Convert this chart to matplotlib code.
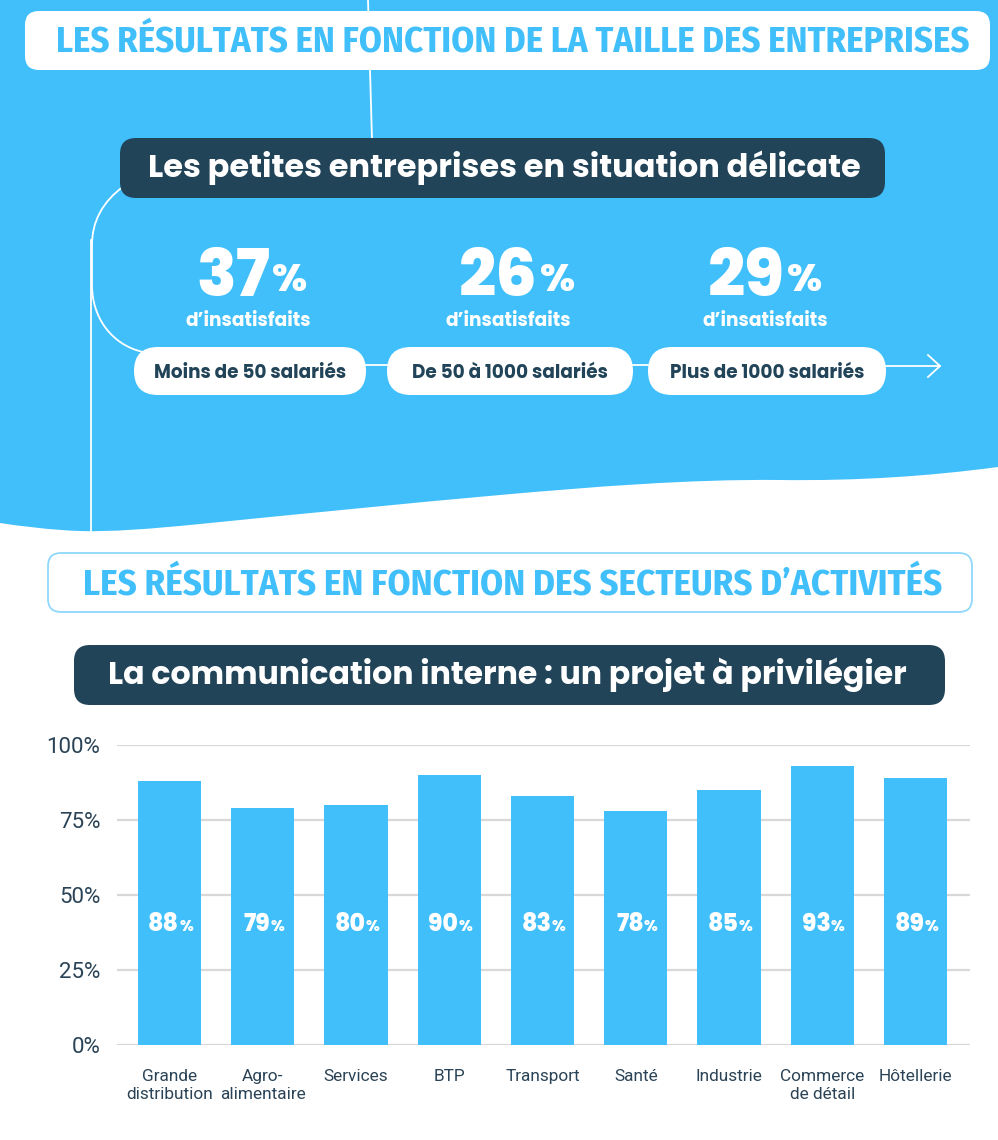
import matplotlib
matplotlib.use('Agg')
import matplotlib.pyplot as plt
from matplotlib.patches import FancyBboxPatch, PathPatch
from matplotlib.path import Path
from matplotlib import font_manager as fm

# ---------------- data ----------------
size_groups = ['Moins de 50 salariés', 'De 50 à 1000 salariés', 'Plus de 1000 salariés']
size_unsatisfied = [37, 26, 29]
sectors = ['Grande\ndistribution', 'Agro-\nalimentaire', 'Services', 'BTP', 'Transport',
           'Santé', 'Industrie', 'Commerce\nde détail', 'Hôtellerie']
sector_values = [88, 79, 80, 90, 83, 78, 85, 93, 89]
y_ticks = [0, 25, 50, 75, 100]
y_tick_labels = ['0%', '25%', '50%', '75%', '100%']

title_size = 'LES RÉSULTATS EN FONCTION DE LA TAILLE DES ENTREPRISES'
subtitle_size = 'Les petites entreprises en situation délicate'
title_sector = 'LES RÉSULTATS EN FONCTION DES SECTEURS D’ACTIVITÉS'
subtitle_sector = 'La communication interne : un projet à privilégier'
unsat_label = 'd’insatisfaits'

BLUE = '#40BFFB'
NAVY = '#224459'
TICK = '#2A4356'
GRID = '#D8D8D8'

# ---------------- fonts ----------------
_bold_fams = {f.name for f in fm.fontManager.ttflist
              if (f.weight if isinstance(f.weight, int) else 700 if f.weight == 'bold' else 400) >= 700}
_all_fams = {f.name for f in fm.fontManager.ttflist}


def pick(cands, need_bold=True):
    for c in cands:
        if (need_bold and c in _bold_fams) or (not need_bold and c in _all_fams):
            return [c, 'DejaVu Sans']
    return ['DejaVu Sans']


HEAD_FONT = pick(['Fira Sans Condensed', 'Barlow Semi Condensed', 'Asap Condensed',
                  'PT Sans Narrow', 'Archivo Narrow', 'Liberation Sans Narrow',
                  'Roboto Condensed', 'Encode Sans Semi Condensed'])
INFO_FONT = pick(['M PLUS Rounded 1c', 'Poppins', 'Lato'])
AX_FONT = pick(['Roboto'], need_bold=False)

W, H = 998, 1140
fig = plt.figure(figsize=(W / 100, H / 100), dpi=100)
bg = fig.add_axes([0, 0, 1, 1], zorder=0)
bg.set_xlim(0, W)
bg.set_ylim(H, 0)
bg.axis('off')
renderer = fig.canvas.get_renderer()


def fit_text(axx, x, y, s, width, size0=20, **kw):
    t = axx.text(x, y, s, fontsize=size0, **kw)
    bb = t.get_window_extent(renderer)
    t.set_fontsize(size0 * width / bb.width)
    return t


def num_pct(axx, cx, y_num, y_pct, value, size_num, size_pct, gap, **kw):
    tn = axx.text(0, y_num, f'{value}', fontsize=size_num, ha='left', va='baseline', **kw)
    tp = axx.text(0, y_pct, '%', fontsize=size_pct, ha='left', va='baseline', **kw)
    wn = tn.get_window_extent(renderer).width
    wp = tp.get_window_extent(renderer).width
    left = cx - (wn + gap + wp) / 2
    tn.set_x(left)
    tp.set_x(left + wn + gap)


# ---------------- blue wavy background ----------------
verts = [(0, 0), (W, 0), (W, 467),
         (930, 476), (860, 481), (780, 480),
         (690, 479), (590, 487), (500, 495),
         (410, 503), (300, 514), (200, 524),
         (150, 529), (110, 532), (80, 531),
         (50, 530), (20, 526), (0, 523),
         (0, 0)]
codes = [Path.MOVETO, Path.LINETO, Path.LINETO] + [Path.CURVE4] * 15 + [Path.CLOSEPOLY]
bg.add_patch(PathPatch(Path(verts, codes), fc=BLUE, ec='none', zorder=0))

# decorative white lines
bg.plot([368, 372], [0, 140], color='white', lw=1.3, zorder=1)
curve = Path([(124, 186), (102, 202), (92, 222), (92, 245), (92, 285),
              (92, 318), (112, 345), (143, 352)],
             [Path.MOVETO, Path.CURVE4, Path.CURVE4, Path.CURVE4, Path.LINETO,
              Path.CURVE4, Path.CURVE4, Path.CURVE4])
bg.add_patch(PathPatch(curve, fc='none', ec='white', lw=1.3, zorder=1))
bg.plot([91, 91], [240, 533], color='white', lw=1.3, zorder=1)

# header 1
bg.add_patch(FancyBboxPatch((25, 11), 965, 59, boxstyle='round,pad=0,rounding_size=14',
                            fc='white', ec='none', zorder=2))
fit_text(bg, 513, 42, title_size, 913, color=BLUE, fontweight='bold', family=HEAD_FONT,
         ha='center', va='center', zorder=3)

# box 2
bg.add_patch(FancyBboxPatch((120, 138), 765, 60, boxstyle='round,pad=0,rounding_size=16',
                            fc=NAVY, ec='none', zorder=2))
fit_text(bg, 504, 168, subtitle_size, 712, color='white', fontweight='bold', family=INFO_FONT,
         ha='center', va='center', zorder=3)

# pills
pills = [(134, 232), (387, 246), (648, 238)]
py0, ph = 347, 48
bg.plot([366, 387], [365, 365], color='white', lw=1.3, zorder=1)
bg.plot([633, 648], [365, 365], color='white', lw=1.3, zorder=1)
bg.plot([886, 940], [366, 366], color='white', lw=1.3, zorder=1)
bg.plot([928, 940, 928], [355, 366, 377], color='white', lw=1.3, zorder=1)

pill_text_w = [192, 196, 195]
num_dx = [2, 7, -2]
for (px, pw), name, val, tw, ndx in zip(pills, size_groups, size_unsatisfied, pill_text_w, num_dx):
    bg.add_patch(FancyBboxPatch((px, py0), pw, ph, boxstyle='round,pad=0,rounding_size=24',
                                fc='white', ec='none', zorder=2))
    cx = px + pw / 2
    fit_text(bg, cx, py0 + ph / 2 + 2, name, tw, color=NAVY, fontweight='bold',
             family=INFO_FONT, ha='center', va='center', zorder=3)
    num_pct(bg, cx + ndx, 296, 291, val, 47, 28, 2, color='white', fontweight='heavy',
            family=INFO_FONT, zorder=3)
    fit_text(bg, cx - 2, 326, unsat_label, 125, color='white', fontweight='bold',
             family=INFO_FONT, ha='center', va='baseline', zorder=3)

# header 2
bg.add_patch(FancyBboxPatch((48, 553), 924, 59, boxstyle='round,pad=0,rounding_size=13',
                            fc='white', ec='#8FD8FB', lw=1.3, zorder=2))
fit_text(bg, 513, 585, title_sector, 860, color=BLUE, fontweight='bold', family=HEAD_FONT,
         ha='center', va='center', zorder=3)

# box 3
bg.add_patch(FancyBboxPatch((74, 645), 871, 60, boxstyle='round,pad=0,rounding_size=16',
                            fc=NAVY, ec='none', zorder=2))
fit_text(bg, 507, 675, subtitle_sector, 798, color='white', fontweight='bold', family=INFO_FONT,
         ha='center', va='center', zorder=3)

# ---------------- bar chart ----------------
ax = fig.add_axes([117 / W, (H - 1045) / H, (970 - 117) / W, 300 / H], zorder=1)
ax.patch.set_alpha(0)
xs = list(range(len(sectors)))
ax.bar(xs, sector_values, width=0.677, color=BLUE, zorder=3)
ax.set_xlim(-0.563, 8.584)
ax.set_ylim(0, 100)
ax.set_yticks(y_ticks)
ax.set_yticklabels(y_tick_labels, fontsize=16, color=TICK, family=AX_FONT)
ax.set_xticks(xs)
ax.set_xticklabels(sectors, fontsize=12.4, color=TICK, family=AX_FONT, linespacing=1.3)
ax.yaxis.grid(True, color=GRID, lw=1.6)
ax.set_axisbelow(True)
for s in ax.spines.values():
    s.set_visible(False)
ax.tick_params(axis='y', length=0, pad=12)
ax.tick_params(axis='x', length=0, pad=17)

# overlay for value labels (above the bars)
ov = fig.add_axes([0, 0, 1, 1], zorder=5)
ov.set_xlim(0, W)
ov.set_ylim(H, 0)
ov.axis('off')
ov.patch.set_alpha(0)

for xi, v in zip(xs, sector_values):
    dx, dy = ax.transData.transform((xi, 38))
    num_pct(ov, dx + 1, H - dy, H - dy, v, 17, 11, 0, color='white', fontweight='heavy',
            family=INFO_FONT)

fig.savefig('out.png', dpi=100)
